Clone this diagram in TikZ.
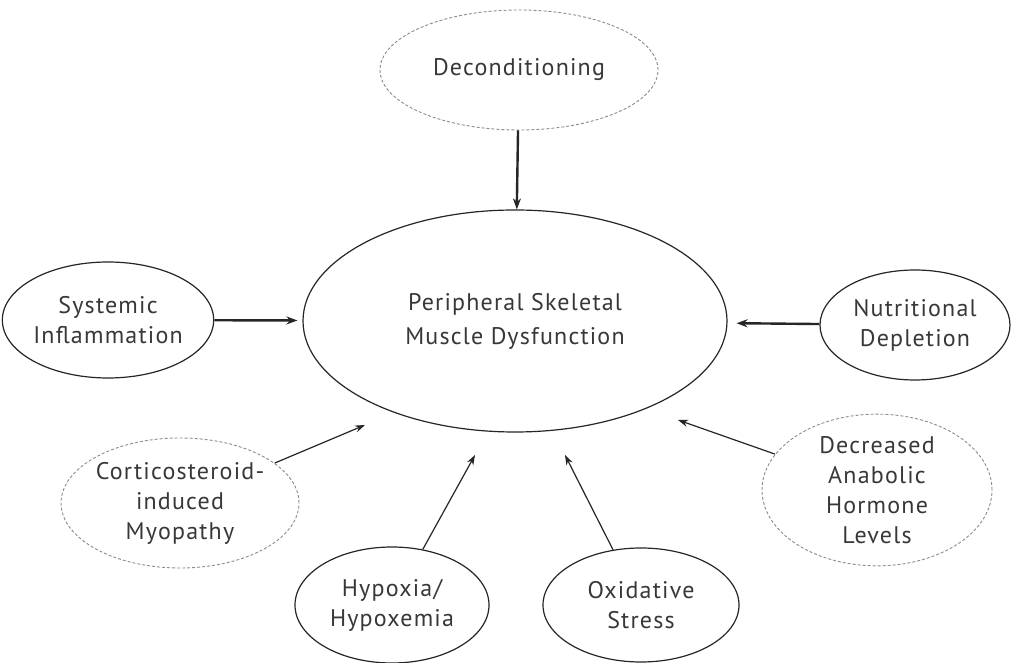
\documentclass[tikz,border=0pt]{standalone}
\usepackage{fontspec}
\setmainfont[LetterSpace=5]{PT Sans}
\usetikzlibrary{shapes.geometric}
\usetikzlibrary{arrows.meta}

\begin{document}
\begin{tikzpicture}[x=1pt, y=1pt,
    factor/.style={ellipse, draw=black!85, line width=1.2pt, inner sep=0pt,
      align=center, text=black!78, font=\fontsize{24}{30}\selectfont},
    weakfactor/.style={factor, draw=black!45, line width=0.9pt, dash pattern=on 3pt off 2pt},
    strong/.style={-{Stealth[length=11pt,width=8pt]}, line width=2.4pt, draw=black!85},
    weak/.style={-{Stealth[length=10pt,width=7pt]}, line width=1.2pt, draw=black!85}]
      \useasboundingbox (0,0) rectangle (1011,663);
      \fill[white] (0,0) rectangle (1011,663);

      \draw (515,342) node[factor, minimum width=424pt, minimum height=222pt,
        font=\fontsize{24}{34}\selectfont] (PSMD) {Peripheral Skeletal\\Muscle Dysfunction};
      \draw (519,593) node[weakfactor, minimum width=278pt, minimum height=120pt] (Decond) {Deconditioning};
      \draw (108,343) node[factor, minimum width=192pt, minimum height=116pt] (SysInf) {Systemic\\Inflammation};
      \draw (915,338) node[factor, minimum width=190pt, minimum height=110pt] (NutDep) {Nutritional\\Depletion};
      \draw (180,160) node[weakfactor, minimum width=230pt, minimum height=130pt] (Cortico) {Corticosteroid-\\induced\\Myopathy};
      \draw (392,58) node[factor, minimum width=194pt, minimum height=116pt] (Hypox) {Hypoxia/\\Hypoxemia};
      \draw (641,58) node[factor, minimum width=196pt, minimum height=114pt] (OxStr) {Oxidative\\Stress};
      \draw (877,173) node[weakfactor, minimum width=230pt, minimum height=134pt] (Anabol) {Decreased\\Anabolic\\Hormone\\Levels};

      % ends of the short arrows below the big ellipse
      \coordinate (tCortico) at (365,238);
      \coordinate (tHypox) at (475,208);
      \coordinate (tOxStr) at (565,208);
      \coordinate (tAnabol) at (678,243);

      \draw[strong] (Decond) -- (PSMD);
      \draw[strong, shorten >=5pt] (SysInf) -- (PSMD);
      \draw[strong, shorten >=9pt] (NutDep) -- (PSMD);

      \draw[weak] (Cortico) -- (tCortico);
      \draw[weak] (Hypox) -- (tHypox);
      \draw[weak] (OxStr) -- (tOxStr);
      \draw[weak] (Anabol) -- (tAnabol);
    \end{tikzpicture}
\end{document}
